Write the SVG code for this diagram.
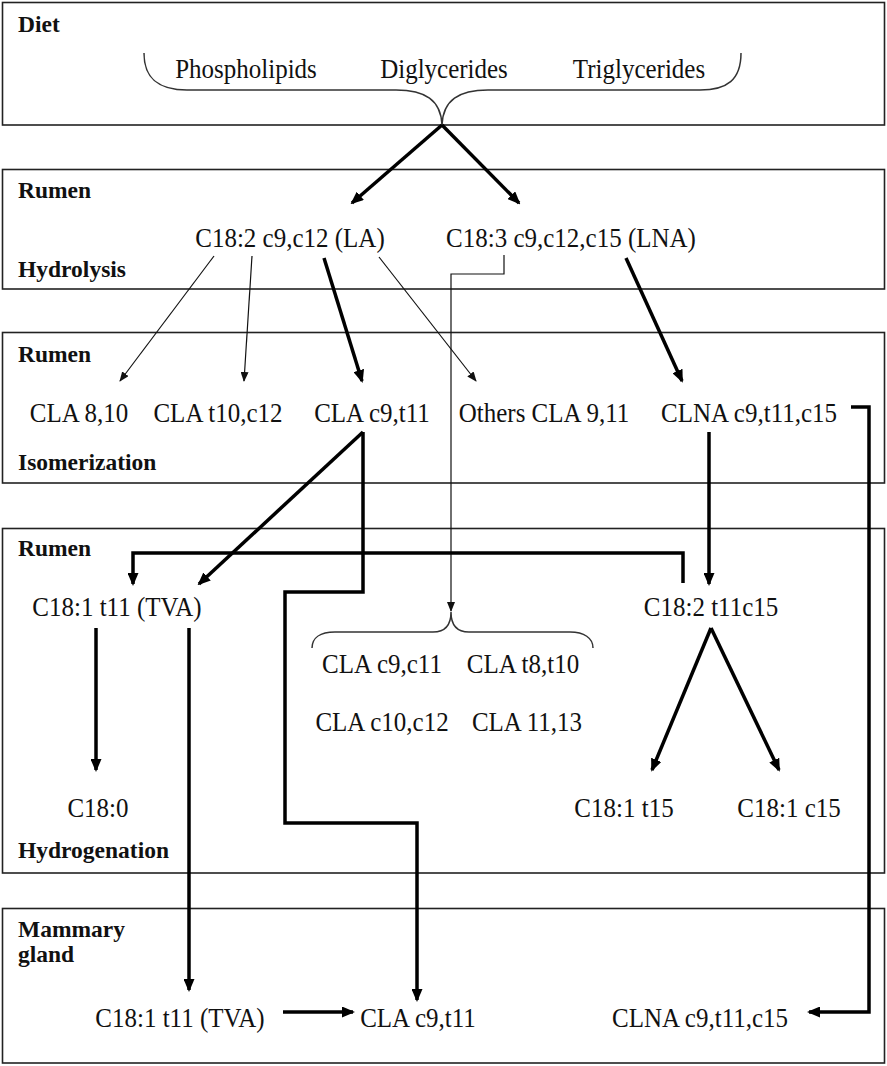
<svg xmlns="http://www.w3.org/2000/svg" width="887" height="1066" viewBox="0 0 887 1066">
<style>
.box{fill:#fff;stroke:#222;stroke-width:1.6}
.t{font-family:"Liberation Serif","Times New Roman",serif;font-size:25px;fill:#111;text-anchor:middle}
.b{font-family:"Liberation Serif","Times New Roman",serif;font-size:23.5px;font-weight:bold;fill:#111}
.thick{fill:none;stroke:#000;stroke-width:3.5;stroke-linejoin:miter}
.thin{fill:none;stroke:#111;stroke-width:1.2}
.brace{fill:none;stroke:#333;stroke-width:1.5}
</style>
<defs>
<marker id="ah" markerWidth="13" markerHeight="11" refX="11" refY="5.5" orient="auto" markerUnits="userSpaceOnUse"><path d="M0,0 L13,5.5 L0,11 z" fill="#000"/></marker>
<marker id="ahs" markerWidth="10" markerHeight="8" refX="9" refY="4" orient="auto" markerUnits="userSpaceOnUse"><path d="M0,0 L10,4 L0,8 z" fill="#111"/></marker>
</defs>
<rect width="887" height="1066" fill="#fff"/>
<g id="diet">
<rect class="box" x="2.5" y="2.5" width="882" height="122.5"/>
<text class="b" x="18" y="32">Diet</text>
<text class="t" transform="translate(246,78) scale(1,1.12)">Phospholipids</text>
<text class="t" transform="translate(444,78) scale(1,1.12)">Diglycerides</text>
<text class="t" transform="translate(639,78) scale(1,1.12)">Triglycerides</text>
<path class="brace" d="M144,53 C144,80 160,90 187,90 L396,90 C425,90 441,100 442,125 C443,100 459,90 488,90 L700,90 C727,90 741,80 741,53"/>
</g>
<g id="hydrolysis">
<rect class="box" x="2.5" y="169.5" width="882" height="119.5"/>
<text class="b" x="18" y="198">Rumen</text>
<text class="b" x="18" y="277">Hydrolysis</text>
<text class="t" transform="translate(290,247) scale(1,1.12)">C18:2 c9,c12 (LA)</text>
<text class="t" transform="translate(571,247) scale(1,1.12)">C18:3 c9,c12,c15 (LNA)</text>
</g>
<g id="isomerization">
<rect class="box" x="2.5" y="332.5" width="882" height="150.5"/>
<text class="b" x="18" y="362">Rumen</text>
<text class="b" x="18" y="470">Isomerization</text>
<text class="t" transform="translate(79,422) scale(1,1.12)">CLA 8,10</text>
<text class="t" transform="translate(218,422) scale(1,1.12)">CLA t10,c12</text>
<text class="t" transform="translate(372,422) scale(1,1.12)">CLA c9,t11</text>
<text class="t" transform="translate(544,422) scale(1,1.12)">Others CLA 9,11</text>
<text class="t" transform="translate(749,422) scale(1,1.12)">CLNA c9,t11,c15</text>
</g>
<g id="hydrogenation">
<rect class="box" x="2.5" y="528.5" width="882" height="344.5"/>
<text class="b" x="18" y="556">Rumen</text>
<text class="b" x="18" y="858">Hydrogenation</text>
<text class="t" transform="translate(117,616) scale(1,1.12)">C18:1 t11 (TVA)</text>
<text class="t" transform="translate(711,616) scale(1,1.12)">C18:2 t11c15</text>
<path class="brace" d="M312,648 C312,638 320,632 335,632 L433,632 C445,632 451,625 451,612 C451,625 457,632 469,632 L570,632 C584,632 593,638 593,648"/>
<text class="t" transform="translate(382,673) scale(1,1.12)">CLA c9,c11</text>
<text class="t" transform="translate(523,673) scale(1,1.12)">CLA t8,t10</text>
<text class="t" transform="translate(382,731) scale(1,1.12)">CLA c10,c12</text>
<text class="t" transform="translate(527,731) scale(1,1.12)">CLA 11,13</text>
<text class="t" transform="translate(98,817) scale(1,1.12)">C18:0</text>
<text class="t" transform="translate(624,817) scale(1,1.12)">C18:1 t15</text>
<text class="t" transform="translate(789,817) scale(1,1.12)">C18:1 c15</text>
</g>
<g id="mammary">
<rect class="box" x="2.5" y="908.5" width="882" height="154.5"/>
<text class="b" x="18" y="937">Mammary</text>
<text class="b" x="18" y="962">gland</text>
<text class="t" transform="translate(180,1027) scale(1,1.12)">C18:1 t11 (TVA)</text>
<text class="t" transform="translate(418,1027) scale(1,1.12)">CLA c9,t11</text>
<text class="t" transform="translate(700,1027) scale(1,1.12)">CLNA c9,t11,c15</text>
</g>
<g id="connectors">
<path class="thick" d="M442,125 L352,203" marker-end="url(#ah)"/>
<path class="thick" d="M442,125 L519,203" marker-end="url(#ah)"/>
<path class="thick" d="M324,258 L362,381" marker-end="url(#ah)"/>
<path class="thick" d="M626,258 L682,381" marker-end="url(#ah)"/>
<path class="thin" d="M214,256 L120,381" marker-end="url(#ahs)"/>
<path class="thin" d="M252,256 L244,381" marker-end="url(#ahs)"/>
<path class="thin" d="M379,257 L476,381" marker-end="url(#ahs)"/>
<path class="thin" d="M504,255 V274 H451 V611" marker-end="url(#ahs)"/>
<path class="thick" d="M363,432 L199,584" marker-end="url(#ah)"/>
<path class="thick" d="M363,432 V592 H285 V823 H417 V1000" marker-end="url(#ah)"/>
<path class="thick" d="M709,432 V584" marker-end="url(#ah)"/>
<path class="thick" d="M683,583 V553 H133 V584" marker-end="url(#ah)"/>
<path class="thick" d="M96,628 V770" marker-end="url(#ah)"/>
<path class="thick" d="M189,628 V990" marker-end="url(#ah)"/>
<path class="thick" d="M711,628 L652,770" marker-end="url(#ah)"/>
<path class="thick" d="M711,628 L779,770" marker-end="url(#ah)"/>
<path class="thick" d="M283,1012 H353" marker-end="url(#ah)"/>
<path class="thick" d="M851,407 H869 V1012 H809" marker-end="url(#ah)"/>
</g>
</svg>
